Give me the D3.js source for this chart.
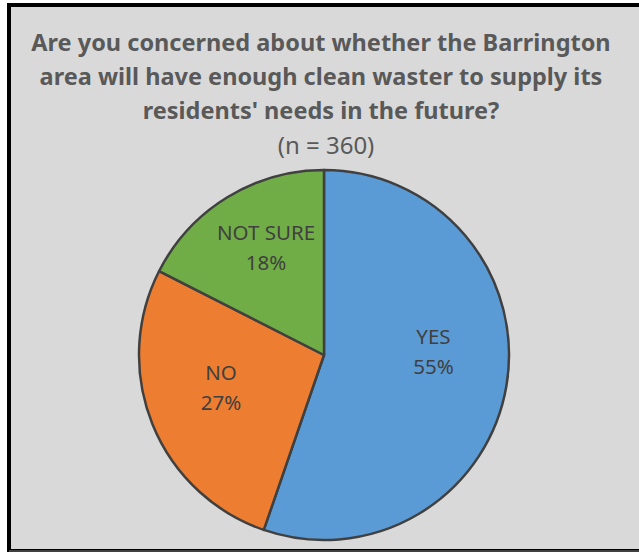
<!DOCTYPE html>
<html>
<head>
<meta charset="utf-8">
<script src="https://cdn.jsdelivr.net/npm/d3@7"></script>
<style>
  html, body { margin: 0; padding: 0; background: #ffffff; }
  svg { display: block; }
</style>
</head>
<body>
<svg id="chart" width="639" height="552"></svg>
<script>
// ---- data ----
const categories = ["YES", "NO", "NOT SURE"];
const counts = [199, 98, 63];            // n = 360
const colors = ["#5b9bd5", "#ed7d31", "#70ad47"];
const titleLines = [
  "Are you concerned about whether the Barrington",
  "area will have enough clean waster to supply its",
  "residents' needs in the future?"
];
const subtitle = "(n = 360)";

// ---- layout ----
const W = 639, H = 552;
const svg = d3.select("#chart");
const labelNudge = { "YES": -13, "NO": 0, "NOT SURE": -4 };

// frame
svg.append("rect").attr("x", 9).attr("y", 5).attr("width", W + 10).attr("height", H - 6)
  .attr("fill", "#d9d9d9").attr("stroke", "#000").attr("stroke-width", 4);
svg.append("line").attr("x1", 9).attr("x2", W).attr("y1", 551).attr("y2", 551)
  .attr("stroke", "#404040").attr("stroke-width", 2);

// title
const title = svg.append("text")
  .attr("text-anchor", "middle")
  .attr("font-family", "'Noto Sans', 'Open Sans', sans-serif")
  .attr("font-weight", "bold")
  .attr("font-size", 23.5)
  .attr("fill", "#595959");
titleLines.forEach((t, i) => {
  title.append("tspan").attr("x", 321).attr("y", 51 + i * 34).text(t);
});
svg.append("text")
  .attr("x", 326).attr("y", 154)
  .attr("text-anchor", "middle")
  .attr("font-family", "'Noto Sans', 'Open Sans', sans-serif")
  .attr("font-size", 24)
  .attr("fill", "#595959")
  .text(subtitle);

// pie
const cx = 324, cy = 355, r = 185;
const total = d3.sum(counts);
const data = categories.map((c, i) => ({ cat: c, value: counts[i], color: colors[i] }));
const pie = d3.pie().value(d => d.value).sort(null);
const arc = d3.arc().innerRadius(0).outerRadius(r);
const labelArc = d3.arc().innerRadius(r * 0.6).outerRadius(r * 0.6);

const g = svg.append("g").attr("transform", `translate(${cx},${cy})`);
const arcs = pie(data);
g.selectAll("path.slice").data(arcs).join("path")
  .attr("class", "slice")
  .attr("d", arc)
  .attr("fill", d => d.data.color)
  .attr("stroke", "#404040")
  .attr("stroke-width", 2.5)
  .attr("stroke-linejoin", "round");

const labels = g.selectAll("text.lbl").data(arcs).join("text")
  .attr("class", "lbl")
  .attr("text-anchor", "middle")
  .attr("font-family", "'Noto Sans', 'Open Sans', sans-serif")
  .attr("font-size", 20.5)
  .attr("fill", "#404040")
  .attr("transform", d => {
    const [x, y] = labelArc.centroid(d);
    return `translate(${x},${y - 12 + labelNudge[d.data.cat]})`;
  });
labels.append("tspan").attr("x", 0).attr("dy", "-0.2em").text(d => d.data.cat);
labels.append("tspan").attr("x", 0).attr("dy", "1.46em")
  .text(d => Math.round(d.data.value / total * 100) + "%");
</script>
</body>
</html>
